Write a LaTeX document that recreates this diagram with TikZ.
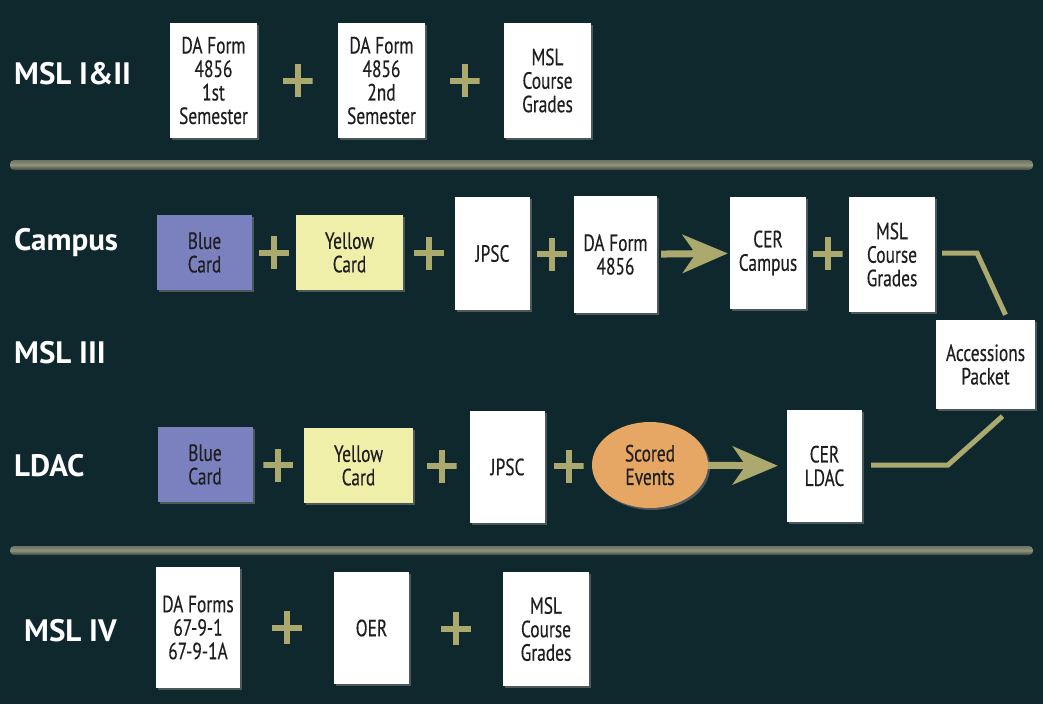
\documentclass[tikz,border=0pt]{standalone}
\usepackage{fontspec}
\usepackage{xcolor}
\usepackage{tikz}
\usetikzlibrary{arrows.meta,positioning,shapes.geometric,shadows,calc}

\newfontfamily\boxfont[FakeStretch=0.74,FakeBold=0.3]{PT Sans}
\newfontfamily\labfont{PT Sans Bold}

\definecolor{bgdark}{HTML}{0F282E}
\definecolor{khaki}{HTML}{ABA96E}
\definecolor{barmid}{HTML}{8F947D}
\definecolor{bartop}{HTML}{6E7463}
\definecolor{barlow}{HTML}{3E453B}
\definecolor{ink}{HTML}{1E1E1E}
\definecolor{cardblue}{HTML}{7B81BF}
\definecolor{cardyellow}{HTML}{F0EFAA}
\definecolor{evorange}{HTML}{E6A765}

\begin{document}
\begin{tikzpicture}[x=1pt,y=-1pt,
    card/.style={fill=white,text=ink,inner sep=0pt,align=center,
                 font=\boxfont\fontsize{23.5}{23.5}\selectfont,
                 drop shadow={shadow xshift=2pt,shadow yshift=-2pt,opacity=.55}},
    bluecard/.style={card,fill=cardblue},
    yellowcard/.style={card,fill=cardyellow},
    event/.style={card,ellipse,fill=evorange},
    rowlabel/.style={anchor=west,inner sep=0pt,text=white,
                     font=\labfont\fontsize{31}{33}\selectfont},
    plus/.style={minimum width=30pt,minimum height=33pt,inner sep=0pt,
                 path picture={
                   \draw[khaki,line width=6pt]
                     (path picture bounding box.north) -- (path picture bounding box.south)
                     (path picture bounding box.west) -- (path picture bounding box.east);}},
    flow/.style={draw=khaki,line width=7pt,-{Stealth[length=45pt,width=38pt,inset=13pt]}},
    link/.style={draw=khaki,line width=5pt},
    divider/.style={rounded corners=4pt,top color=bartop,
                    bottom color=barlow,middle color=barmid}]

  \useasboundingbox (0,0) rectangle (1043,704);
  \fill[bgdark] (0,0) rectangle (1043,704);

  % MSL I & II
  \node[rowlabel] (l1) at (14,74) {MSL I\&II};
  \node[card,minimum width=87pt,minimum height=115pt] (a1) at (213.5,80.5)
        {DA Form\\4856\\1st\\Semester};
  \node[card,minimum width=87pt,minimum height=115pt] (a2) at (381.5,80.5)
        {DA Form\\4856\\2nd\\Semester};
  \node[card,minimum width=87pt,minimum height=115pt] (a3) at (547.5,80.5)
        {MSL\\Course\\Grades};
  \node[plus] (pa1) at ($(a1.east)!0.5!(a2.west)$) {};
  \node[plus] (pa2) at ($(a2.east)!0.5!(a3.west)$) {};

  \shade[divider] (10,160) rectangle (1033,170);

  % MSL III
  \node[rowlabel] (l2) at (14,243) {Campus};
  \node[rowlabel] (l3) at (14,353) {MSL III};
  \node[rowlabel] (l4) at (14,466) {LDAC};

  \node[bluecard,minimum width=95pt,minimum height=75pt] (b1) at (204.5,252.5)
        {Blue\\Card};
  \node[yellowcard,minimum width=107pt,minimum height=75pt] (y1) at (349.5,252.5)
        {Yellow\\Card};
  \node[card,minimum width=75pt,minimum height=113pt] (j1) at (492.5,253.5) {JPSC};
  \node[card,minimum width=83pt,minimum height=117pt] (d1) at (615.5,254.5)
        {DA Form\\4856};
  \node[card,minimum width=76pt,minimum height=112pt] (c1) at (768,253)
        {CER\\Campus};
  \node[card,minimum width=86pt,minimum height=115pt] (m1) at (892,254.5)
        {MSL\\Course\\Grades};
  \node[plus] (pb1) at ($(b1.east)!0.5!(y1.west)$) {};
  \node[plus] (pb2) at ($(y1.east)!0.5!(j1.west)$) {};
  \node[plus] (pb3) at ($(j1.east)!0.5!(d1.west)$) {};
  \node[plus] (pb4) at ($(c1.east)!0.5!(m1.west)$) {};
  \draw[flow,shorten <=4pt,shorten >=2pt] (d1) -- (c1);

  \node[card,minimum width=99pt,minimum height=89pt] (acc) at (985.5,364.5)
        {Accessions\\Packet};

  \node[bluecard,minimum width=95pt,minimum height=75pt] (b2) at (205,464.5)
        {Blue\\Card};
  \node[yellowcard,minimum width=109pt,minimum height=75pt] (y2) at (358.5,465.5)
        {Yellow\\Card};
  \node[card,minimum width=75pt,minimum height=112pt] (j2) at (507.5,467) {JPSC};
  \node[event,minimum width=116pt,minimum height=86pt] (ev) at (650,465)
        {Scored\\Events};
  \node[card,minimum width=75pt,minimum height=112pt] (c2) at (824.5,466)
        {CER\\LDAC};
  \node[plus] (pc1) at ($(b2.east)!0.5!(y2.west)$) {};
  \node[plus] (pc2) at ($(y2.east)!0.5!(j2.west)$) {};
  \node[plus] (pc3) at ($(j2.east)!0.5!(ev.west)$) {};
  \draw[flow,shorten >=9pt] (ev) -- (c2);

  \coordinate (k1) at (977,253);
  \coordinate (k2) at (948,465);
  \draw[link] ([xshift=7pt]m1.east |- k1) -- (k1) -- ([xshift=20pt,yshift=5pt]acc.north);
  \draw[link] ([xshift=9pt]c2.east |- k2) -- (k2) -- ([xshift=17pt,yshift=-7pt]acc.south);

  \shade[divider] (10,546) rectangle (1033,555);

  % MSL IV
  \node[rowlabel] (l5) at (24,631) {MSL IV};
  \node[card,minimum width=84pt,minimum height=121pt] (f1) at (198,627.5)
        {DA Forms\\67-9-1\\67-9-1A};
  \node[card,minimum width=75pt,minimum height=112pt] (oer) at (371.5,628) {OER};
  \node[card,minimum width=86pt,minimum height=114pt] (m4) at (546,629)
        {MSL\\Course\\Grades};
  \node[plus] (pd1) at ($(f1.east)!0.5!(oer.west)$) {};
  \node[plus] (pd2) at ($(oer.east)!0.5!(m4.west)$) {};
\end{tikzpicture}
\end{document}
